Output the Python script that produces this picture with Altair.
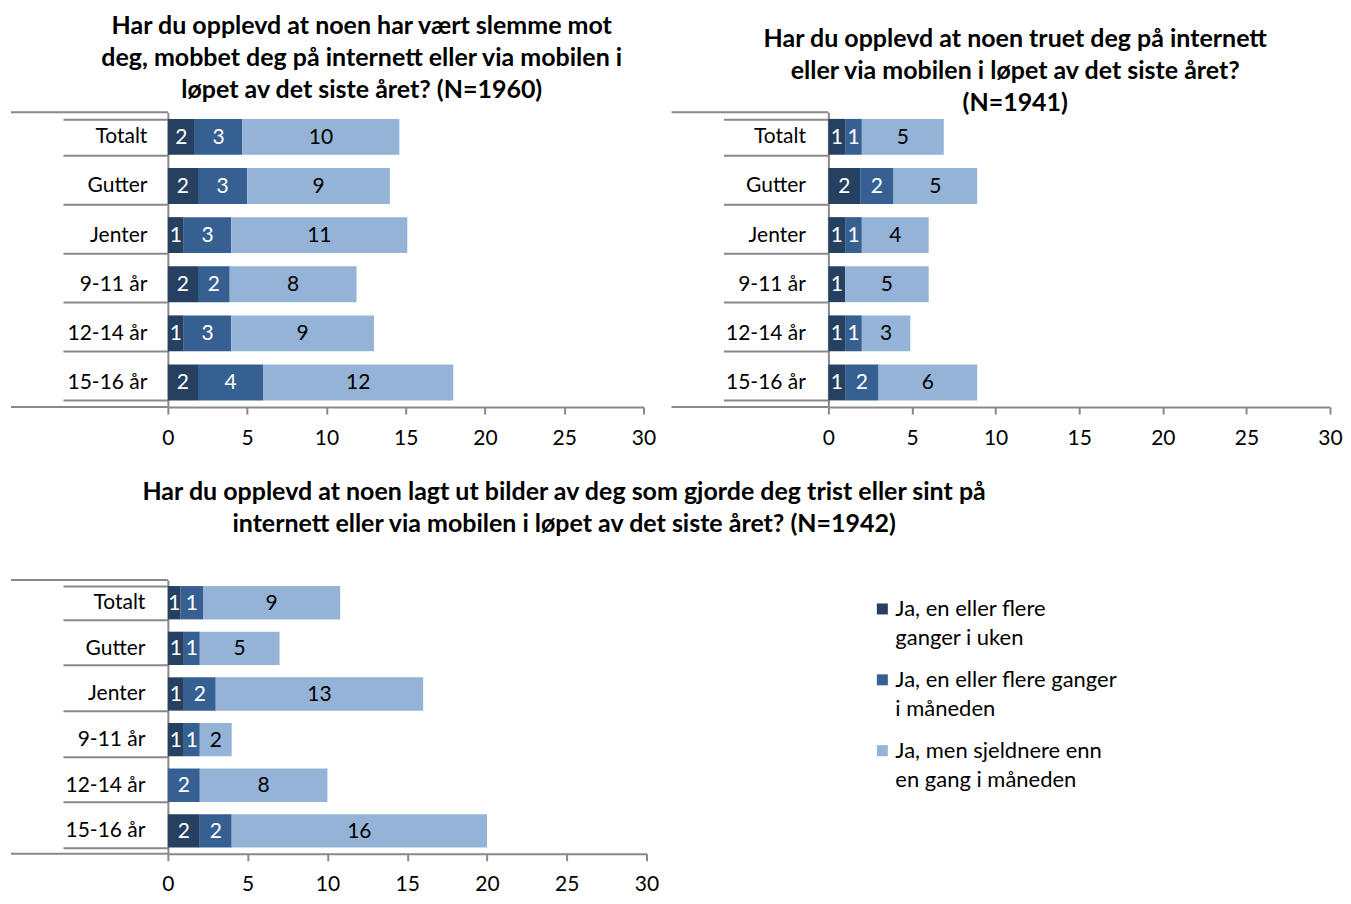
import altair as alt
import pandas as pd

# ---------------- data ----------------
categories = ["Totalt", "Gutter", "Jenter", "9-11 år", "12-14 år", "15-16 år"]
series = [
    "Ja, en eller flere ganger i uken",
    "Ja, en eller flere ganger i måneden",
    "Ja, men sjeldnere enn en gang i måneden",
]
legend_lines = [
    "Ja, en eller flere\nganger i uken",
    "Ja, en eller flere ganger\ni måneden",
    "Ja, men sjeldnere enn\nen gang i måneden",
]
colors = ["#254061", "#376092", "#95B3D7"]
x_ticks = [0, 5, 10, 15, 20, 25, 30]

# chart 1: slemme / mobbet (N=1960)
c1_uke = [1.7, 1.9, 1.0, 1.9, 1.0, 1.9]
c1_mnd = [3.0, 3.1, 3.0, 2.0, 3.0, 4.1]
c1_sjelden = [9.9, 9.0, 11.1, 8.0, 9.0, 12.0]
title1 = ["Har du opplevd at noen har vært slemme mot",
          "deg, mobbet deg på internett eller via mobilen i",
          "løpet av det siste året? (N=1960)"]

# chart 2: truet (N=1941)
c2_uke = [1.0, 1.9, 1.0, 1.0, 1.0, 1.0]
c2_mnd = [1.0, 2.0, 1.0, 0.0, 1.0, 2.0]
c2_sjelden = [4.9, 5.0, 4.0, 5.0, 2.9, 5.9]
title2 = ["Har du opplevd at noen truet deg på internett",
          "eller via mobilen i løpet av det siste året?",
          "(N=1941)"]

# chart 3: bilder (N=1942)
c3_uke = [0.8, 1.0, 1.0, 1.0, 0.0, 2.0]
c3_mnd = [1.4, 1.0, 2.0, 1.0, 2.0, 2.0]
c3_sjelden = [8.6, 5.0, 13.0, 2.0, 8.0, 16.0]
title3 = ["Har du opplevd at noen  lagt ut bilder av deg som gjorde deg trist eller sint på",
          "internett eller via mobilen i løpet av det siste året? (N=1942)"]

FONT = "Lato"
GRAY = "#898989"
FS = 21


def long_table(values_by_series):
    rows = []
    for si, (s, vals) in enumerate(zip(series, values_by_series)):
        for c, v in zip(categories, vals):
            rows.append({"kategori": c, "serie": s, "rekkefolge": si, "verdi": v})
    return pd.DataFrame(rows)


def panel(values, title, w, h, title_dx, title_offset, label_pad):
    df = long_table(values)
    base = (
        alt.Chart(df)
        .transform_stack(stack="verdi", groupby=["kategori"], as_=["x0", "x1"],
                         sort=[alt.SortField("rekkefolge")])
        .transform_calculate(midt="(datum.x0 + datum.x1) / 2")
    )
    y_enc = alt.Y(
        "kategori:N", sort=categories, title=None,
        scale=alt.Scale(paddingInner=0.27, paddingOuter=0.135),
        axis=alt.Axis(
            domainColor=GRAY, domainWidth=2,
            tickBand="extent", tickSize=105, tickColor=GRAY, tickWidth=2,
            labelFont=FONT, labelFontSize=FS, labelColor="black",
            labelPadding=label_pad, grid=False,
        ),
    )
    x_enc = alt.X(
        "x0:Q", title=None,
        scale=alt.Scale(domain=[0, 30], nice=False),
        axis=alt.Axis(
            values=x_ticks, format="d", grid=False,
            domainColor=GRAY, domainWidth=2,
            tickColor=GRAY, tickWidth=2, tickSize=7,
            labelFont=FONT, labelFontSize=FS, labelColor="black",
            labelPadding=13, labelFlush=False,
        ),
    )
    bars = base.mark_bar().encode(
        y=y_enc, x=x_enc, x2="x1:Q",
        color=alt.Color("serie:N", scale=alt.Scale(domain=series, range=colors), legend=None),
    )
    texts = base.transform_filter("datum.verdi >= 0.5").mark_text(
        font=FONT, fontSize=FS, baseline="middle", dy=1
    ).encode(
        y=alt.Y("kategori:N", sort=categories),
        x=alt.X("midt:Q"),
        text=alt.Text("verdi:Q", format=".0f"),
        color=alt.condition("datum.rekkefolge < 2", alt.value("white"), alt.value("black")),
    )
    edge = alt.Chart(pd.DataFrame({"k": [0]})).mark_rule(color=GRAY, strokeWidth=2)
    top_line = edge.encode(x=alt.value(-157), x2=alt.value(0), y=alt.value(0))
    bottom_line = edge.encode(x=alt.value(-157), x2=alt.value(0), y=alt.value(h))
    return alt.layer(bars, texts, top_line, bottom_line).properties(
        width=w, height=h,
        title=alt.TitleParams(
            text=title, font=FONT, fontSize=25, fontWeight="bold", color="black",
            lineHeight=32, anchor="middle", dx=title_dx, offset=title_offset,
        ),
    )


p1 = panel([c1_uke, c1_mnd, c1_sjelden], title1, 476, 295, -44, -2, -84)
p2 = panel([c2_uke, c2_mnd, c2_sjelden], title2, 502, 295, -64, -15, -82)
p3 = panel([c3_uke, c3_mnd, c3_sjelden], title3, 479, 274, 157, 32, -82)

leg_df = pd.DataFrame({"serie": series, "tekst": legend_lines})
leg_y = alt.Y("serie:N", sort=series, axis=None,
              scale=alt.Scale(type="point", domain=series, padding=0.41))
leg_sq = alt.Chart(leg_df).mark_square(size=121, opacity=1).encode(
    y=leg_y, x=alt.value(54),
    color=alt.Color("serie:N", scale=alt.Scale(domain=series, range=colors), legend=None),
)
leg_txt = alt.Chart(leg_df).mark_text(
    font=FONT, fontSize=22, align="left", baseline="middle", lineBreak="\n",
    lineHeight=29, color="black",
).encode(y=leg_y, x=alt.value(67), text="tekst:N")
legend = alt.layer(leg_sq, leg_txt).properties(width=300, height=200)

chart = alt.concat(
    p1, p2, p3, legend, columns=2,
    spacing={"row": 173, "column": 182},
    bounds="flush",
    padding={"left": 2, "top": 6, "right": 0, "bottom": 0},
).configure_view(stroke=None)

chart.save("out.html", embed_options={"renderer": "svg", "actions": False})
